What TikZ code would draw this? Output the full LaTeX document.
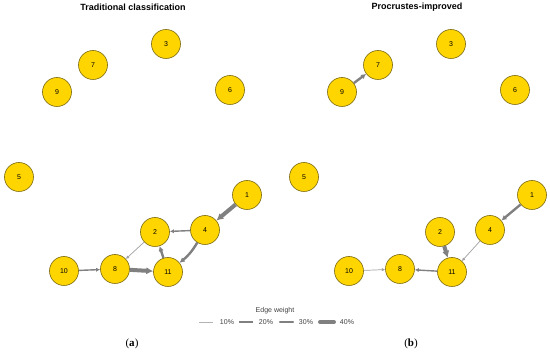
\documentclass[tikz,border=0pt]{standalone}
\usepackage{fontspec}
\setmainfont{Liberation Sans}
\newfontfamily\capfont{Liberation Serif}
\usetikzlibrary{arrows.meta}
\definecolor{gold}{HTML}{FFD500}
\definecolor{rim}{HTML}{7A6A10}
\definecolor{edgegray}{HTML}{808080}
\begin{document}
\begin{tikzpicture}[x=1pt,y=-1pt,
vertex/.style={circle,draw=rim,fill=gold,line width=0.6pt,minimum size=29pt,inner sep=0pt,font=\fontsize{7}{7}\selectfont},
edge/.style={draw=edgegray,-{Latex[length=2.5pt 1.1,width=2.5pt 1.2]}},
w10/.style={edge,line width=0.7pt,draw=edgegray!75},
w20/.style={edge,line width=1.4pt},
w30/.style={edge,line width=2.4pt},
w40/.style={edge,line width=4pt},
title/.style={font=\bfseries\fontsize{9}{9}\selectfont},
legend/.style={font=\fontsize{7}{7}\selectfont,text=black!75}
]
\useasboundingbox (0,0) rectangle (550,355);
% titles
\node[title] (ta) at (133,7) {Traditional classification};
\node[title] (tb) at (417,7) {Procrustes-improved};
% (a) traditional classification
\node[vertex] (a3) at (166,44) {3};
\node[vertex] (a7) at (93,65) {7};
\node[vertex] (a9) at (57,92) {9};
\node[vertex] (a6) at (230,90) {6};
\node[vertex] (a5) at (19,177) {5};
\node[vertex] (a1) at (247,195) {1};
\node[vertex] (a2) at (155,232) {2};
\node[vertex] (a4) at (205,230) {4};
\node[vertex] (a10) at (64,271) {10};
\node[vertex] (a8) at (115,269) {8};
\node[vertex] (a11) at (168,272) {11};
\draw[w40] (a1) -- (a4);
\draw[w20] (a4) -- (a2);
\draw[w10] (a2) -- (a8);
\draw[w20] (a10) -- (a8);
\draw[w40] (a8) -- (a11);
\draw[w30] (a11) -- (a2);
\draw[w30] (a4) to[bend left=10] (a11);
% (b) procrustes-improved
\node[vertex] (b3) at (451,44) {3};
\node[vertex] (b7) at (378,65) {7};
\node[vertex] (b9) at (342,92) {9};
\node[vertex] (b6) at (515,90) {6};
\node[vertex] (b5) at (304,177) {5};
\node[vertex] (b1) at (532,195) {1};
\node[vertex] (b2) at (440,232) {2};
\node[vertex] (b4) at (490,230) {4};
\node[vertex] (b10) at (349,271) {10};
\node[vertex] (b8) at (400,269) {8};
\node[vertex] (b11) at (452,272) {11};
\draw[w30] (b9) -- (b7);
\draw[w30] (b1) -- (b4);
\draw[w10] (b4) -- (b11);
\draw[w40] (b2) -- (b11);
\draw[w20] (b11) -- (b8);
\draw[w10] (b10) -- (b8);
% legend
\node[legend] (lt) at (275,311) {Edge weight};
\draw[line width=0.7pt,draw=edgegray!60] (199,322) -- (213,322);
\node[legend] (l1) at (227,322) {10\%};
\draw[line width=1.4pt,draw=edgegray] (239,322) -- (253,322);
\node[legend] (l2) at (266,322) {20\%};
\draw[line width=2.4pt,draw=edgegray,line cap=round] (280,322) -- (293,322);
\node[legend] (l3) at (306,322) {30\%};
\draw[line width=4pt,draw=edgegray,line cap=round] (320,322) -- (334,322);
\node[legend] (l4) at (347,322) {40\%};
% panel labels
\node[font=\capfont\fontsize{11}{11}\selectfont] (ca) at (132,344) {(\textbf{a})};
\node[font=\capfont\fontsize{11}{11}\selectfont] (cb) at (411,344) {(\textbf{b})};
\end{tikzpicture}
\end{document}
